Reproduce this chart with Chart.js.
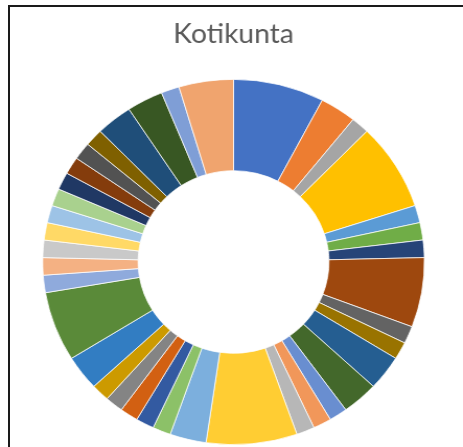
<!DOCTYPE html>
<html>
<head>
<meta charset="utf-8">
<script src="https://cdn.jsdelivr.net/npm/chart.js@4"></script>
<style>
  html, body { margin: 0; padding: 0; background: #fff; overflow: hidden; }
  #frame {
    position: absolute; left: 8px; top: 5px; width: 480px; height: 460px;
    border-left: 2px solid #1a1a1a; border-top: 2px solid #1a1a1a;
  }
  #wrap {
    position: absolute; left: 0; top: 0; width: 443px; height: 447px;
    transform-origin: 0 0; transform: scaleX(1.045);
  }
</style>
</head>
<body>
<div id="frame"></div>
<div id="wrap"><canvas id="chart" width="443" height="447"></canvas></div>
<script>
// kotikunnat, myötäpäivään klo 12:sta
var kunnat = [
  'Kunta 1', 'Kunta 2', 'Kunta 3', 'Kunta 4', 'Kunta 5', 'Kunta 6', 'Kunta 7', 'Kunta 8',
  'Kunta 9', 'Kunta 10', 'Kunta 11', 'Kunta 12', 'Kunta 13', 'Kunta 14', 'Kunta 15', 'Kunta 16',
  'Kunta 17', 'Kunta 18', 'Kunta 19', 'Kunta 20', 'Kunta 21', 'Kunta 22', 'Kunta 23', 'Kunta 24',
  'Kunta 25', 'Kunta 26', 'Kunta 27', 'Kunta 28', 'Kunta 29', 'Kunta 30', 'Kunta 31', 'Kunta 32',
  'Kunta 33', 'Kunta 34', 'Kunta 35', 'Kunta 36', 'Kunta 37', 'Kunta 38'
];
var maarat = [
  5, 2, 1, 5, 1, 1, 1, 4,
  1, 1, 2, 2, 1, 1, 1, 5,
  2, 1, 1, 1, 1, 1, 2, 4,
  1, 1, 1, 1, 1, 1, 1, 1,
  1, 1, 2, 2, 1, 3
];
var varit = [
  '#4472C4', '#ED7D31', '#A5A5A5', '#FFC000', '#5B9BD5', '#70AD47', '#264478', '#9E480E',
  '#636363', '#997300', '#255E91', '#43682B', '#698ED0', '#F1975A', '#B7B7B7', '#FFCD33',
  '#7CAFDD', '#8CC168', '#335AA1', '#D26012', '#848484', '#CC9A00', '#327DC2', '#5A8A39',
  '#8FAADC', '#F4B183', '#C9C9C9', '#FFD966', '#9DC3E6', '#A9D18E', '#203864', '#843C0C',
  '#525252', '#7F6000', '#1F4E79', '#385723', '#7F9ED6', '#F0A46E'
];

var config = {
  type: 'doughnut',
  data: {
    labels: kunnat,
    datasets: [{
      data: maarat,
      backgroundColor: varit,
      borderColor: '#ffffff',
      borderWidth: 0.75
    }]
  },
  options: {
    responsive: false,
    animation: false,
    cutout: '50%',
    layout: { padding: { top: 0, bottom: 2, left: 4, right: 0 } },
    plugins: {
      legend: { display: false },
      tooltip: { enabled: false },
      title: {
        display: true,
        text: 'Kotikunta',
        color: '#595959',
        font: { family: 'Lato', size: 27, weight: 'normal' },
        padding: { top: 18, bottom: 28.6 }
      }
    }
  }
};

var myChart = new Chart(document.getElementById('chart'), config);
</script>
</body>
</html>
